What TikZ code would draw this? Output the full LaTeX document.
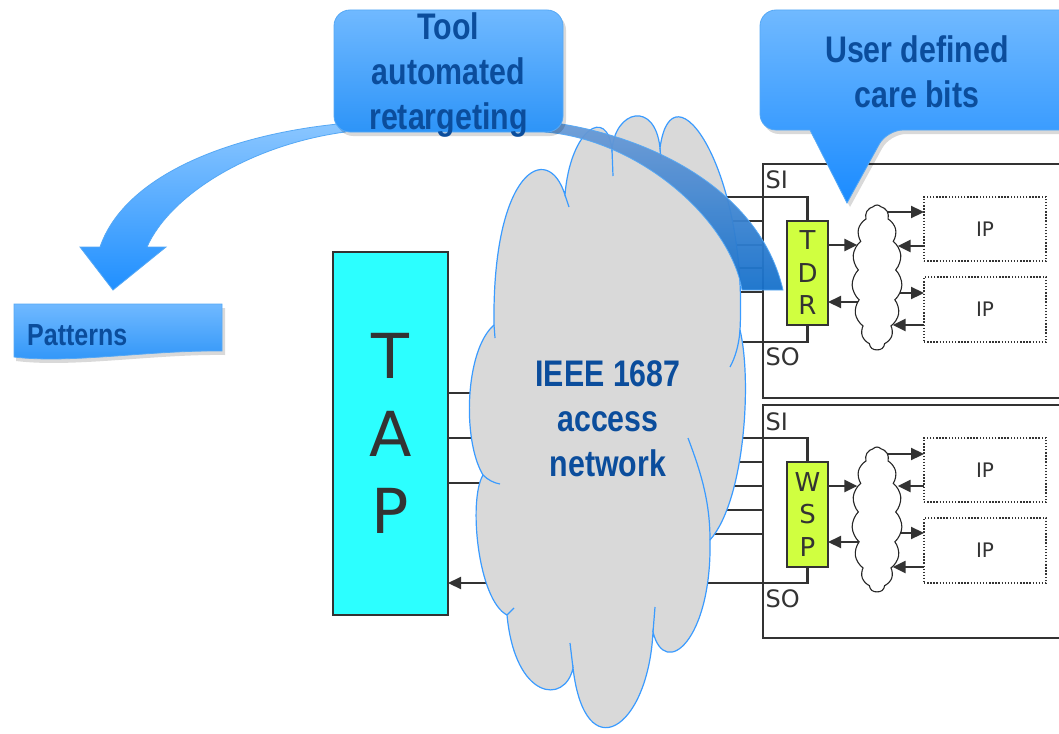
\documentclass[tikz,border=0pt]{standalone}
\usepackage{fontspec}
\newfontfamily\cnd{Liberation Sans}[FakeStretch=0.82]
\newfontfamily\vsans{DejaVu Sans}
\usetikzlibrary{arrows.meta,shapes.symbols,backgrounds,calc}

\definecolor{navy}{HTML}{0B4D9C}
\definecolor{ink}{HTML}{333333}
\definecolor{tapcyan}{HTML}{2CFFFF}
\definecolor{lime}{HTML}{D0FF40}
\definecolor{netgray}{HTML}{D9D9D9}
\definecolor{netline}{HTML}{3A9BFF}
\definecolor{calltop}{HTML}{70B9FF}
\definecolor{callbot}{HTML}{2D94F8}
\definecolor{calltip}{HTML}{1A8BFF}
\definecolor{callrim}{HTML}{55A8F5}
\definecolor{bandtop}{HTML}{6B9BD6}
\definecolor{bandbot}{HTML}{1671CC}
\definecolor{arctop}{HTML}{8AC6FF}
\definecolor{arcbot}{HTML}{1F8FFF}

\begin{document}
\begin{tikzpicture}[x=1pt,y=-1pt,
  wire/.style={draw=ink,line width=2.2pt},
  arr/.style={wire,-{Triangle[length=13pt,width=12pt]}},
  module/.style={draw=ink,line width=2.2pt,inner sep=0pt,outer sep=0pt},
  tapbox/.style={draw=ink,line width=2pt,fill=tapcyan,inner sep=0pt,outer sep=0pt,
    minimum width=115pt,minimum height=363pt,align=center,text=ink,
    font=\vsans\fontsize{62}{77.5}\selectfont},
  reg/.style={draw=ink,line width=1.8pt,fill=lime,inner sep=0pt,outer sep=0pt,
    minimum width=41pt,minimum height=104pt,align=center,text=ink,
    font=\vsans\fontsize{26}{32.5}\selectfont},
  smallcloud/.style={cloud,cloud puffs=15,cloud puff arc=95,cloud ignores aspect,
    minimum width=50pt,minimum height=145pt,inner sep=0pt,outer sep=0pt,
    draw=black!85,line width=1.1pt,fill=white},
  ipbox/.style={draw=ink,line width=1.4pt,dash pattern=on 1.4pt off 1.7pt,
    minimum width=122pt,minimum height=64pt,inner sep=0pt,outer sep=0pt,text=ink,
    font=\vsans\fontsize{20}{24}\selectfont},
  portlbl/.style={anchor=base west,inner sep=0pt,text=ink,font=\vsans\fontsize{24}{28}\selectfont},
  bluetext/.style={align=center,text=navy,inner sep=0pt,font=\cnd\bfseries\fontsize{37}{45}\selectfont},
  netrim/.style={draw=netline,line width=1.2pt}
]
\useasboundingbox (0,0) rectangle (1059,733);

% ---------- access network cloud ----------
\path[fill=netgray,netrim]
  (494,325)
  .. controls (492,170) and (548,140) .. (565,195)
  .. controls (570,130) and (607,105) .. (612,150)
  .. controls (615,110) and (655,100) .. (660,148)
  .. controls (672,60) and (748,170) .. (740,330)
  .. controls (752,380) and (745,500) .. (710,540)
  .. controls (712,640) and (665,680) .. (653,632)
  .. controls (648,730) and (585,770) .. (573,668)
  .. controls (565,705) and (515,700) .. (507,615)
  .. controls (478,600) and (468,500) .. (483,475)
  .. controls (462,440) and (465,350) .. (494,325)
  -- cycle;
% inner ends of the puffs
\draw[netrim] (494,325) -- (495,338);
\draw[netrim] (565,195) -- (569,207);
\draw[netrim] (612,150) -- (613,176);
\draw[netrim] (660,148) -- (661,160);
\draw[netrim] (740,330) .. controls (739,345) and (735,358) .. (730,367);
\draw[netrim] (688,438) .. controls (700,470) and (710,500) .. (710,540);
\draw[netrim] (653,632) -- (655,607);
\draw[netrim] (573,668) -- (570,643);
\draw[netrim] (507,615) -- (514,608);
\draw[netrim] (483,475) .. controls (488,480) and (494,483) .. (500,484);
\node[bluetext] (net) at (608,418.5) {IEEE 1687\\access\\network};

% ---------- TAP ----------
\node[tapbox] (tap) at (390.5,433.5) {T\\A\\P};

% ---------- instrument modules ----------
\node[module,minimum width=312pt,minimum height=234pt] (modA) at (919,281) {};
\node[module,minimum width=312pt,minimum height=233pt] (modB) at (919,521.5) {};

\node[portlbl] (siA) at (765.5,188) {SI};
\node[portlbl] (soA) at (765.5,365) {SO};
\node[portlbl] (siB) at (765.5,430) {SI};
\node[portlbl] (soB) at (765.5,607) {SO};

\node[reg] (tdr) at (807.5,273) {T\\D\\R};
\node[reg,minimum height=105pt] (wsp) at (807.5,514.5) {W\\S\\P};

\node[smallcloud] (scA) at (877,277.5) {};
\node[smallcloud] (scB) at (877,519.5) {};

\node[ipbox] (ipA) at (985,229) {IP};
\node[ipbox,minimum height=65pt] (ipB) at (985,309.5) {IP};
\node[ipbox] (ipC) at (985,470) {IP};
\node[ipbox,minimum height=65pt] (ipD) at (985,550.5) {IP};

% ---------- connectors ----------
\begin{scope}[on background layer]
  \fill[white] (0,0) rectangle (1059,733);
  % TAP side
  \foreach \yy in {393,438,483}
    \draw[wire] (tap.east |- 0,\yy) -- (net.west |- 0,\yy);
  \draw[arr] (net.west |- 0,583) -- (tap.east |- 0,583);
  % upper module
  \draw[wire] (net.east |- 0,197) -| (tdr.north);
  \foreach \yy in {221,245,268,292}
    \draw[wire] (net.east |- 0,\yy) -- (modA.west |- 0,\yy);
  \draw[wire] (tdr.south) |- (net.east |- 0,342);
  % lower module
  \draw[wire] (net.east |- 0,438) -| (wsp.north);
  \foreach \yy in {462,486,510,534}
    \draw[wire] (net.east |- 0,\yy) -- (modB.west |- 0,\yy);
  \draw[wire] (wsp.south) |- (net.east |- 0,583);
  % upper instrument network
  \draw[arr] (tdr.east |- 0,245) -- ($(scA.west |- 0,245)+(4,0)$);
  \draw[arr] (scA.center |- 0,302) -- (tdr.east |- 0,302);
  \draw[arr] (scA.center |- 0,212) -- (ipA.west |- 0,212);
  \draw[arr] (ipA.west |- 0,246) -- ($(scA.east |- 0,246)+(-3,0)$);
  \draw[arr] (scA.center |- 0,293) -- (ipB.west |- 0,293);
  \draw[arr] (ipB.west |- 0,325) -- ($(scA.east |- 0,325)+(-8,0)$);
  % lower instrument network
  \draw[arr] (wsp.east |- 0,486) -- ($(scB.west |- 0,486)+(4,0)$);
  \draw[arr] (scB.center |- 0,542) -- (wsp.east |- 0,542);
  \draw[arr] (scB.center |- 0,454) -- (ipC.west |- 0,454);
  \draw[arr] (ipC.west |- 0,486) -- ($(scB.east |- 0,486)+(-3,0)$);
  \draw[arr] (scB.center |- 0,533) -- (ipD.west |- 0,533);
  \draw[arr] (ipD.west |- 0,567) -- ($(scB.east |- 0,567)+(-8,0)$);
\end{scope}

% ---------- retargeting arrow ----------
\shade[top color=bandtop,bottom color=bandbot,draw=callrim,line width=0.8pt,opacity=0.95]
  (548,122) .. controls (650,135) and (760,190) .. (783,290)
  -- (742,290) .. controls (730,220) and (640,140) .. (545,132) -- cycle;
\shade[top color=arctop,bottom color=arcbot,draw=callrim,line width=0.8pt]
  (338,124) .. controls (230,135) and (125,175) .. (100,247)
  -- (80,247) -- (113,290) -- (166,247) -- (147,247)
  .. controls (170,195) and (250,145) .. (345,132) -- cycle;

% ---------- Patterns ----------
\fill[black,opacity=0.15] (16,308) -- (225,308) -- (225,355)
  .. controls (153,354) and (73,368) .. (16,361) -- cycle;
\shade[top color=calltop,bottom color=callbot,draw=callrim,line width=0.8pt]
  (14,304) -- (222,304) -- (222,351)
  .. controls (150,350) and (70,364) .. (14,357) -- cycle;
\node[bluetext,anchor=base west,font=\cnd\bfseries\fontsize{30.5}{36}\selectfont]
  (patterns) at (27,345) {Patterns};

% ---------- callouts ----------
\fill[black,opacity=0.15,rounded corners=16pt] (337,14) rectangle (566,136);
\shade[top color=calltop,bottom color=callbot,draw=callrim,line width=0.8pt,rounded corners=16pt]
  (334,10) rectangle (563,132);
\node[bluetext] (tool) at (448.5,75.5) {Tool\\automated\\retargeting};

\fill[black,opacity=0.15] (850,207) -- (813,134) [rounded corners=16pt] -- (763,134)
  -- (763,14) -- (1083,14) -- (1083,134) -- (890,134) [sharp corners] -- cycle;
\shade[top color=calltop,bottom color=calltip,draw=callrim,line width=0.8pt]
  (847,203) -- (810,130) [rounded corners=16pt] -- (760,130) -- (760,10)
  -- (1080,10) -- (1080,130) -- (887,130) [sharp corners] -- cycle;
\node[bluetext] (user) at (917,71.5) {User defined\\care bits};
\end{tikzpicture}
\end{document}
